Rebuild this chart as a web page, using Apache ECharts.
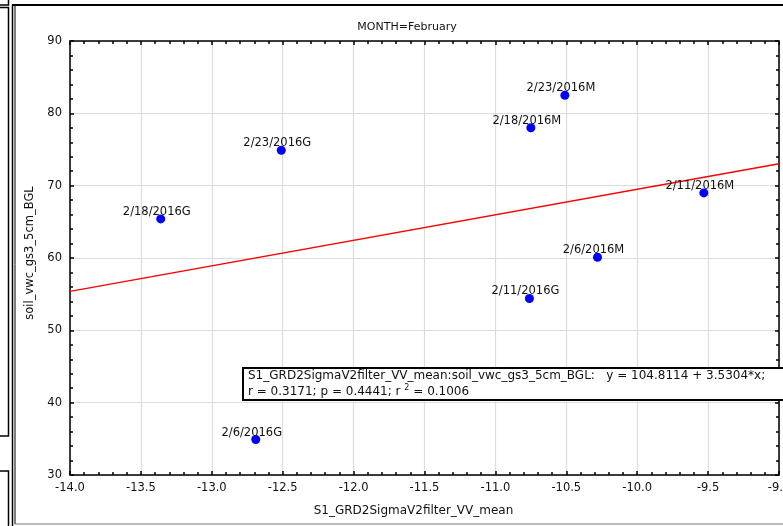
<!DOCTYPE html>
<html>
<head>
<meta charset="utf-8">
<script src="https://cdn.jsdelivr.net/npm/echarts@6/dist/echarts.min.js"></script>
<style>
  html, body { margin: 0; padding: 0; background: #fff; }
  #chart { width: 783px; height: 526px; }
</style>
</head>
<body>
<div id="chart"></div>
<script>
// Soil moisture vs. Sentinel-1 VV backscatter, February observations
const pointLabels = ['2/23/2016G', '2/18/2016G', '2/6/2016G', '2/23/2016M',
                     '2/18/2016M', '2/11/2016M', '2/6/2016M', '2/11/2016G'];
const vvMean  = [-12.51, -13.36, -12.69, -10.51, -10.75, -9.53, -10.28, -10.76];
const soilVwc = [74.9, 65.4, 34.9, 82.5, 78.0, 69.0, 60.1, 54.4];

// Linear fit reported by the analysis
const fitIntercept = 104.8114;
const fitSlope = 3.5304;
const fitR = 0.3171;
const fitP = 0.4441;
const fitR2 = 0.1006;

const xMin = -14, xMax = -9, xStep = 0.5;
const yMin = 30, yMax = 90, yStep = 10;

const xName = 'S1_GRD2SigmaV2filter_VV_mean';
const yName = 'soil_vwc_gs3_5cm_BGL';
const panelTitle = 'MONTH=February';

const FONT = 'DejaVu Sans, Verdana, sans-serif';
const FS = 11.5;
const TXT = '#111';

const scatterData = vvMean.map((x, i) => [x, soilVwc[i], pointLabels[i]]);
const fitLine = [xMin, xMax].map(x => [x, fitIntercept + fitSlope * x]);

const chart = echarts.init(document.getElementById('chart'), null, { renderer: 'canvas' });

const axisLine = { show: true, lineStyle: { color: '#000', width: 1.5 } };
const tick = { show: true, inside: true, length: 4, lineStyle: { color: '#000', width: 1.5 } };
const minor = { show: true, splitNumber: 5, length: 3, lineStyle: { color: '#000', width: 1.5 } };
const split = { show: true, lineStyle: { color: '#dcdcdc', width: 1.2 } };

const eqLine = xName + ':' + yName + ':   y = ' + fitIntercept.toFixed(4) + ' + ' + fitSlope.toFixed(4) + '*x;';
const statLine = 'r = ' + fitR.toFixed(4) + '; p = ' + fitP.toFixed(4) + '; r {sup|2} = ' + fitR2.toFixed(4);

chart.setOption({
  animation: false,
  backgroundColor: '#fff',
  title: {
    text: panelTitle,
    left: 402, top: 17,
    textAlign: 'center',
    textStyle: { fontFamily: FONT, fontSize: 11, fontWeight: 'normal', color: TXT }
  },
  grid: { left: 70, right: 4, top: 41, bottom: 51, containLabel: false, outerBoundsMode: 'none' },
  xAxis: [{
    type: 'value', min: xMin, max: xMax, interval: xStep,
    position: 'bottom',
    name: xName, nameLocation: 'middle', nameGap: 30,
    nameTextStyle: { fontFamily: FONT, fontSize: 12, color: TXT, padding: [0, 22, 0, 0] },
    axisLine, axisTick: tick, minorTick: minor, splitLine: split,
    axisLabel: { fontFamily: FONT, fontSize: FS, color: TXT, margin: 7,
                 formatter: v => v.toFixed(1) }
  }, {
    type: 'value', min: xMin, max: xMax, interval: xStep,
    position: 'top',
    axisLine, axisTick: tick, minorTick: minor,
    splitLine: { show: false }, axisLabel: { show: false }
  }],
  yAxis: [{
    type: 'value', min: yMin, max: yMax, interval: yStep,
    position: 'left',
    name: yName, nameLocation: 'middle', nameGap: 33, nameRotate: 90,
    nameTextStyle: { fontFamily: FONT, fontSize: FS, color: TXT, padding: [0, 0, 0, 10] },
    axisLine, axisTick: tick, minorTick: minor, splitLine: split,
    axisLabel: { fontFamily: FONT, fontSize: FS, color: TXT, margin: 8 }
  }, {
    type: 'value', min: yMin, max: yMax, interval: yStep,
    position: 'right',
    axisLine, axisTick: tick, minorTick: minor,
    splitLine: { show: false }, axisLabel: { show: false }
  }],
  series: [{
    type: 'line',
    data: fitLine,
    symbol: 'none',
    lineStyle: { color: '#ff0000', width: 1.5 },
    z: 2,
    silent: true
  }, {
    type: 'scatter',
    data: scatterData,
    symbol: 'circle',
    symbolSize: 9,
    itemStyle: { color: '#0000ff', opacity: 1 },
    z: 3,
    label: {
      show: true,
      position: 'inside',
      offset: [-4, -7],
      formatter: p => p.data[2],
      fontFamily: FONT, fontSize: FS, color: TXT
    }
  }],
  graphic: [
    // surrounding panel frame
    { type: 'line', shape: { x1: 12, y1: 5, x2: 783, y2: 5 }, style: { stroke: '#000', lineWidth: 2 }, silent: true },
    { type: 'line', shape: { x1: 12.5, y1: 5, x2: 12.5, y2: 526 }, style: { stroke: '#000', lineWidth: 1.5 }, silent: true },
    { type: 'line', shape: { x1: 15, y1: 5, x2: 15, y2: 524 }, style: { stroke: '#000', lineWidth: 1 }, silent: true },
    { type: 'line', shape: { x1: 15, y1: 524, x2: 783, y2: 524 }, style: { stroke: '#777', lineWidth: 1 }, silent: true },
    // neighbouring panel edges on the left
    { type: 'polyline', shape: { points: [[8.5, 0], [8.5, 5], [0, 5]] }, style: { stroke: '#000', lineWidth: 1.5, fill: null }, silent: true },
    { type: 'polyline', shape: { points: [[0, 7.5], [8.5, 7.5], [8.5, 436], [0, 436]] }, style: { stroke: '#000', lineWidth: 1.5, fill: null }, silent: true },
    { type: 'polyline', shape: { points: [[0, 471], [8.5, 471], [8.5, 526]] }, style: { stroke: '#000', lineWidth: 1.5, fill: null }, silent: true },
    // regression summary box
    { type: 'rect', z: 100, shape: { x: 243, y: 368, width: 560, height: 32 },
      style: { fill: '#fff', stroke: '#000', lineWidth: 2 }, silent: true },
    { type: 'text', z: 101, x: 248, y: 376, silent: true,
      style: { text: eqLine, fontFamily: FONT, fontSize: 12, fill: TXT, verticalAlign: 'middle' } },
    { type: 'text', z: 101, x: 248, y: 392, silent: true,
      style: { text: statLine, fontFamily: FONT, fontSize: 12, fill: TXT, verticalAlign: 'middle',
               rich: { sup: { fontSize: 8, fontFamily: FONT, fill: TXT, padding: [0, 0, 8, 0] } } } }
  ]
});
</script>
</body>
</html>
